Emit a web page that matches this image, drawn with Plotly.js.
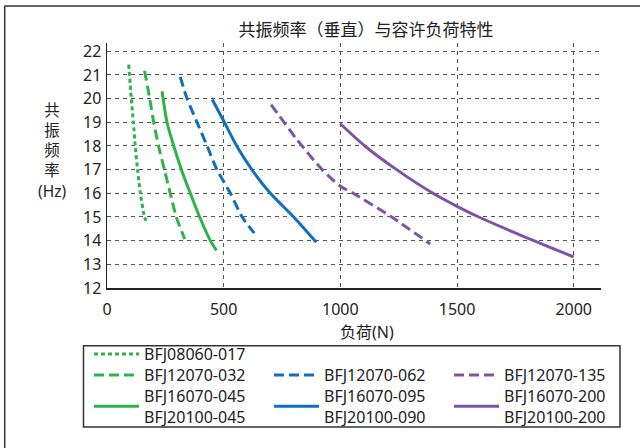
<!DOCTYPE html>
<html>
<head>
<meta charset="utf-8">
<script src="https://cdn.plot.ly/plotly-3.0.1.min.js"></script>
<style>
html,body{margin:0;padding:0;background:#fff;}
#chart{width:640px;height:448px;}
</style>
</head>
<body>
<div id="chart"></div>
<script>
// ---- data (load N vs. resonant frequency Hz) ----
const names = ["BFJ08060-017", "BFJ12070-032", "BFJ16070-045<br>BFJ20100-045",
               "BFJ12070-062", "BFJ16070-095<br>BFJ20100-090",
               "BFJ12070-135", "BFJ16070-200<br>BFJ20100-200"];

const load017 = [93, 104, 113, 121, 131, 143, 161, 171];
const freq017 = [21.44, 20.0, 19.0, 18.0, 17.0, 16.0, 15.0, 14.77];

const load032 = [161, 183, 200, 221, 246, 271, 297, 333];
const freq032 = [21.18, 20.0, 19.0, 18.0, 17.0, 16.0, 15.0, 14.07];

const load045 = [236, 257, 286, 319, 357, 397, 443, 469];
const freq045 = [20.31, 19.0, 18.0, 17.0, 16.0, 15.0, 14.0, 13.59];

const load062 = [314, 343, 386, 429, 471, 529, 579, 631];
const freq062 = [20.92, 20.0, 19.0, 18.0, 17.0, 16.0, 15.0, 14.32];

const load095 = [451, 503, 556, 621, 700, 800, 897];
const freq095 = [19.96, 19.0, 18.0, 17.0, 16.0, 15.0, 13.93];

const load135 = [703, 814, 922, 1000, 1055, 1220, 1385];
const freq135 = [19.75, 18.27, 17.0, 16.3, 16.0, 15.0, 13.86];

const load200 = [1000, 1105, 1241, 1397, 1500, 1593, 1829, 2000];
const freq200 = [18.94, 18.0, 17.0, 16.0, 15.45, 15.0, 14.0, 13.31];

const xTicks = [0, 500, 1000, 1500, 2000];
const yTicks = [12, 13, 14, 15, 16, 17, 18, 19, 20, 21, 22];

// ---- styles ----
const GREEN = "#2db34a", BLUE = "#106ebe", PURPLE = "#8054a4";
const FONT = "Noto Sans, Noto Sans CJK SC, sans-serif";

// geometry helpers (pixel -> paper)
const L = 107, R = 39, T = 43, B = 160, W = 640, H = 448;
const PW = W - L - R, PH = H - T - B;
const px = v => (v - L) / PW;
const py = v => (H - B - v) / PH;

function tr(x, y, name, color, dash, legend) {
  return {x: x, y: y, name: name, type: "scatter", mode: "lines",
          line: {color: color, width: 3, dash: dash, shape: "spline", smoothing: 0.7},
          legend: legend};
}
const data = [
  tr(load017, freq017, names[0], GREEN, "4px,3px", "legend"),
  tr(load032, freq032, names[1], GREEN, "10px,5px", "legend2"),
  tr(load045, freq045, names[2], GREEN, "solid", "legend3"),
  tr(load062, freq062, names[3], BLUE, "10px,5px", "legend4"),
  tr(load095, freq095, names[4], BLUE, "solid", "legend5"),
  tr(load135, freq135, names[5], PURPLE, "10px,5px", "legend6"),
  tr(load200, freq200, names[6], PURPLE, "solid", "legend7")
];

function leg(xpix, ypix) {
  return {x: px(xpix), y: py(ypix), xref: "paper", yref: "paper",
          xanchor: "left", yanchor: "middle", bgcolor: "rgba(0,0,0,0)",
          borderwidth: 0, font: {family: FONT, size: 16, color: "#222"},
          itemwidth: 45, tracegroupgap: 0};
}
const col = [89, 269, 449];
const row = [354, 375.2, 406.5];

const layout = {
  width: W, height: H,
  margin: {l: L, r: R, t: T, b: B, pad: 0},
  paper_bgcolor: "#fff", plot_bgcolor: "#fff",
  font: {family: FONT, size: 16, color: "#222"},
  showlegend: true,
  title: {text: "共振频率（垂直）与容许负荷特性", font: {family: FONT, size: 17, color: "#222"},
          x: 366 / W, xref: "container", xanchor: "center",
          y: 1 - 30.5 / H, yref: "container", yanchor: "middle"},
  xaxis: {range: [0, 2117], tickvals: xTicks, ticktext: xTicks.map(String),
          showgrid: true, gridcolor: "#555", gridwidth: 1, griddash: "4px,4px",
          showline: true, linecolor: "#222", linewidth: 1.5, zeroline: false,
          ticks: "", ticklabelstandoff: 6,
          tickfont: {family: FONT, size: 16, color: "#222"}, fixedrange: true},
  yaxis: {range: [12, 22.35], tickvals: yTicks, ticktext: yTicks.map(String),
          showgrid: true, gridcolor: "#555", gridwidth: 1, griddash: "4px,4px",
          showline: true, linecolor: "#222", linewidth: 1.5, zeroline: false,
          ticks: "", ticklabelstandoff: 1,
          tickfont: {family: FONT, size: 16, color: "#222"}, fixedrange: true},
  legend: leg(col[0], row[0]),
  legend2: leg(col[0], row[1]),
  legend3: leg(col[0], row[2]),
  legend4: leg(col[1], row[1]),
  legend5: leg(col[1], row[2]),
  legend6: leg(col[2], row[1]),
  legend7: leg(col[2], row[2]),
  annotations: [
    {text: "负荷(N)", x: px(366.7), y: py(331.5), xref: "paper", yref: "paper",
     xanchor: "center", yanchor: "middle", showarrow: false,
     font: {family: FONT, size: 16, color: "#222"}},
    {text: "共<br>振<br>频<br>率<br>(Hz)", x: px(51.7), y: py(150.5), xref: "paper", yref: "paper",
     xanchor: "center", yanchor: "middle", showarrow: false,
     font: {family: FONT, size: 15.5, color: "#222"}}
  ],
  shapes: [
    {type: "line", xref: "paper", yref: "paper", x0: px(4.7), x1: px(640), y0: py(6), y1: py(6),
     line: {color: "#333", width: 1.5}},
    {type: "line", xref: "paper", yref: "paper", x0: px(4.7), x1: px(4.7), y0: py(6), y1: py(448),
     line: {color: "#333", width: 1.5}},
    {type: "rect", xref: "paper", yref: "paper", x0: px(83.5), x1: px(620), y0: py(345.7), y1: py(427),
     line: {color: "#333", width: 1.5}, fillcolor: "rgba(0,0,0,0)"}
  ]
};

Plotly.newPlot("chart", data, layout, {staticPlot: true, displayModeBar: false});
</script>
</body>
</html>
